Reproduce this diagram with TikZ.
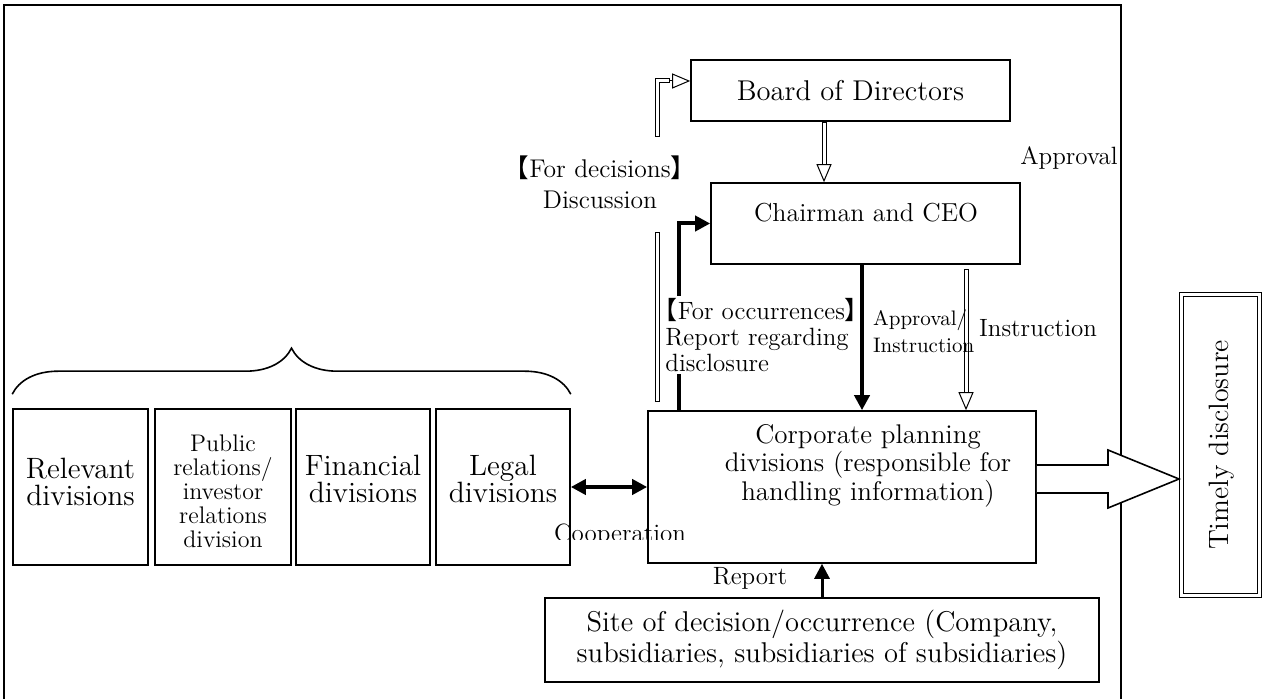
\documentclass[tikz,border=0pt]{standalone}
\usepackage{fontspec}
\newfontfamily\cjk{Noto Sans CJK JP}
\usetikzlibrary{arrows.meta,calc,decorations.pathreplacing}
\newcommand{\boxfont}{\fontsize{13.5pt}{12.5pt}\selectfont}
\newcommand{\bigboxfont}{\fontsize{14.3pt}{13pt}\selectfont}
\newcommand{\ceofont}{\fontsize{13pt}{13pt}\selectfont}
\newcommand{\lblfont}{\fontsize{12.5pt}{13pt}\selectfont}
\newcommand{\declfont}{\fontsize{12.8pt}{15.5pt}\selectfont}
\newcommand{\smallfont}{\fontsize{10.5pt}{13.5pt}\selectfont}
\newcommand{\divfont}{\fontsize{14.7pt}{13.5pt}\selectfont}
\newcommand{\prfont}{\fontsize{12pt}{12pt}\selectfont}
\newcommand{\timefont}{\fontsize{14pt}{14pt}\selectfont}
\newcommand{\lbr}{\hspace*{-0.5em}{\cjk 【}}
\newcommand{\rbr}{{\cjk 】}\hspace*{-0.5em}}
\tikzset{
  box/.style={draw, line width=0.8pt, fill=white, inner sep=0pt, align=center},
  hbar/.style={line width=2.5pt, postaction={draw=white, line width=1.5pt, shorten <=0.5pt, shorten >=0.5pt}},
  ohead/.style={line width=0.5pt, -{Triangle[open, fill=white, length=9pt, width=7.5pt]}},
  sarr/.style={line width=2pt, -{Triangle[length=7.5pt, width=7.5pt]}},
}
\begin{document}
\begin{tikzpicture}[x=0.5pt, y=-0.5pt]
\useasboundingbox (0,0) rectangle (1262,699);
\draw[line width=0.8pt] (4,710) |- (1121,5) -- (1121,710);

\node[box, minimum width=159.5pt, minimum height=30.5pt, font=\bigboxfont] (board) at (850.5,90.5) {Board of Directors};
\node[box, minimum width=154.5pt, minimum height=40.5pt] (ceo) at (865.5,223.5) {};
\node[font=\ceofont] (ceotxt) at (866,213) {Chairman and CEO};
\node[box, minimum width=194pt, minimum height=76pt] (corp) at (842,487) {};
\node[font=\boxfont, align=center] (corptxt) at (868,466) {Corporate planning\\divisions (responsible for\\handling information)};
\node[box, minimum width=277pt, minimum height=42pt, font=\bigboxfont] (site) at (822,640) {Site of decision/occurrence (Company,\\subsidiaries, subsidiaries of subsidiaries)};

\node[box, minimum width=67.5pt, minimum height=78pt] (rel) at (80.5,487) {};
\node[box, minimum width=68pt, minimum height=78pt] (pr) at (223,487) {};
\node[box, minimum width=67pt, minimum height=78pt] (fin) at (363,487) {};
\node[box, minimum width=67pt, minimum height=78pt] (legal) at (503,487) {};
\node[font=\divfont, align=center] (reltxt) at (80.5,482) {Relevant\\divisions};
\node[font=\prfont, align=center] (prtxt) at (223,491) {Public\\relations/\\investor\\relations\\division};
\node[font=\divfont, align=center] (fintxt) at (363,479) {Financial\\divisions};
\node[font=\divfont, align=center] (legtxt) at (503,479) {Legal\\divisions};
\draw[line width=0.8pt, decorate, decoration={brace, amplitude=23pt}] ($(rel.north west)+(0,-14)$) -- ($(legal.north east)+(0,-14)$);

\node[draw, double, double distance=1.5pt, line width=0.5pt, minimum width=39pt, minimum height=150pt, inner sep=0pt] (timely) at (1220,445) {};
\node[rotate=90, font=\timefont] (timetxt) at (1222,445) {Timely disclosure};
\coordinate (tip) at (1179,479);
\draw[line width=0.8pt, fill=white] ($(corp.east |- tip)+(0,-14)$) -- ($(tip)+(-71,-14)$) -- ($(tip)+(-71,-29)$) -- (tip) -- ($(tip)+(-71,29)$) -- ($(tip)+(-71,14)$) -- ($(corp.east |- tip)+(0,14)$);

\coordinate (decx) at (657,0);
\coordinate (decy) at (0,81);
\draw[hbar] ($(corp.north -| decx)+(0,-8)$) -- (657,232);
\draw[hbar] (657,137) |- ($(board.west |- decy)+(-20,0)$);
\draw[ohead] ($(board.west |- decy)+(-20,0)$) -- (board.west |- decy);

\coordinate (appx) at (824,0);
\draw[hbar] (board.south -| appx) -- ($(ceo.north -| appx)+(0,-17)$);
\draw[ohead] ($(ceo.north -| appx)+(0,-17)$) -- (ceo.north -| appx);

\coordinate (insx) at (966,0);
\draw[hbar] ($(ceo.south -| insx)+(0,4)$) -- ($(corp.north -| insx)+(0,-17)$);
\draw[ohead] ($(corp.north -| insx)+(0,-17)$) -- (corp.north -| insx);

\coordinate (aix) at (862,0);
\draw[sarr] (ceo.south -| aix) -- (corp.north -| aix);
\coordinate (occx) at (679,0);
\draw[sarr] (corp.north -| occx) |- (ceo.west);
\draw[sarr, line width=1.5pt] (site.north) -- (corp.south -| site.north);
\draw[line width=2pt, {Triangle[length=7.5pt, width=7.5pt]}-{Triangle[length=7.5pt, width=7.5pt]}] (legal.east) -- (corp.west);

\node[font=\declfont, align=center] (declbl) at (600,182) {\lbr For decisions\rbr\\Discussion};
\node[font=\lblfont, align=left, fill=white, inner sep=1pt, anchor=west] (occlbl) at (663,335) {\lbr For occurrences\rbr\\Report regarding\\disclosure};
\node[font=\smallfont, align=left, anchor=west] (ailbl) at (866,331) {Approval/\\Instruction};
\node[font=\lblfont] (inslbl) at (1038,328) {Instruction};
\node[font=\lblfont] (applbl) at (1069,158) {Approval};
\node[font=\lblfont] (replbl) at (750,578) {Report};
\begin{scope}
\clip (540,500) rectangle (700,539);
\node[font=\lblfont] (cooplbl) at (620,535) {Cooperation};
\end{scope}
\end{tikzpicture}
\end{document}
